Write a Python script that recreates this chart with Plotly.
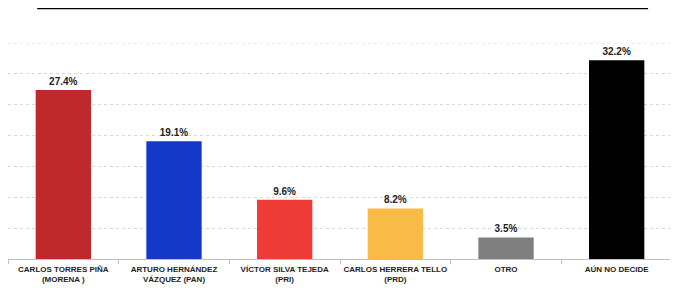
import plotly.graph_objects as go

categories = ["CARLOS TORRES PIÑA<br>(MORENA )", "ARTURO HERNÁNDEZ<br>VÁZQUEZ (PAN)",
              "VÍCTOR SILVA TEJEDA<br>(PRI)", "CARLOS HERRERA TELLO<br>(PRD)",
              "OTRO", "AÚN NO DECIDE"]
values = [27.4, 19.1, 9.6, 8.2, 3.5, 32.2]
labels = ["27.4%", "19.1%", "9.6%", "8.2%", "3.5%", "32.2%"]
colors = ["#C0292B", "#1438C8", "#EE3B36", "#F8BC46", "#7F7F7F", "#000000"]
y_max = 35

FONT = "Liberation Sans Narrow, Liberation Sans, Arial"

fig = go.Figure(go.Bar(
    x=categories, y=values, marker_color=colors, marker_line_width=0,
    width=0.5, text=labels, textposition="outside", cliponaxis=False,
    textfont=dict(family=FONT, size=10, color="#222222", weight="bold"),
))
fig.update_layout(
    width=670, height=280, margin=dict(l=0, r=6, t=35, b=29),
    paper_bgcolor="white", plot_bgcolor="white", showlegend=False,
    font=dict(family=FONT),
    uniformtext=dict(minsize=10, mode="show"),
)
fig.update_xaxes(
    showline=True, linecolor="#BFBFBF", linewidth=1, ticks="outside",
    tickson="boundaries", ticklen=4, tickcolor="#BFBFBF",
    tickfont=dict(family=FONT, size=8, color="#222222", weight="bold"),
    tickangle=0, automargin=False, showgrid=False, ticklabelstandoff=2,
)
fig.update_yaxes(
    range=[0, y_max], tickmode="linear", tick0=0, dtick=5,
    showticklabels=False, showgrid=True,
    gridcolor="#D9D9D9", griddash="dot", gridwidth=1, zeroline=False,
)
fig.add_hline(y=y_max, line=dict(color="#D9D9D9", width=1, dash="dot"), layer="below")
fig.add_shape(type="line", xref="paper", yref="paper", x0=0.044, x1=0.964,
              y0=1.162, y1=1.162, line=dict(color="#000000", width=2.5))
fig.write_html("out.html")
